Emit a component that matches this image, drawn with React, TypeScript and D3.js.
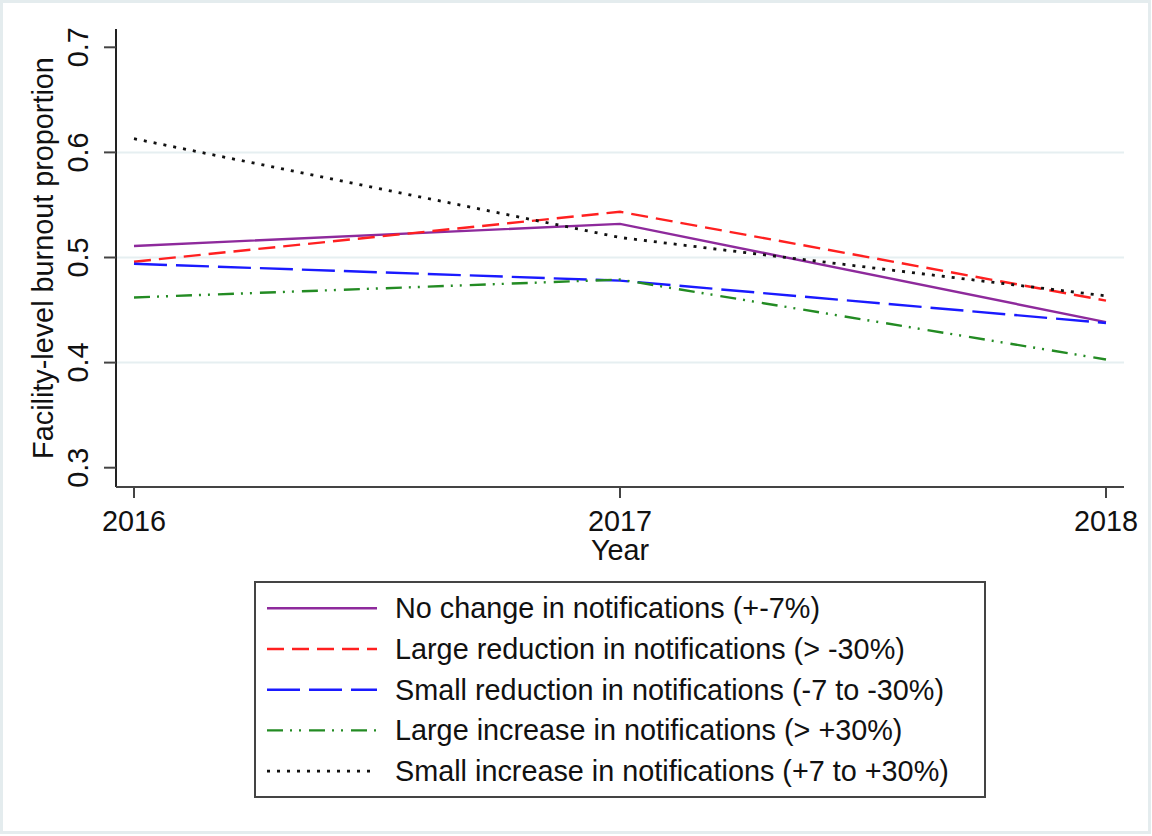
import React from "react";
import * as d3 from "d3";

// Survey years on the x axis
const years: number[] = [2016, 2017, 2018];

// Facility-level burnout proportion by notification-change group
const noChange: number[] = [0.511, 0.532, 0.4385];
const largeReduction: number[] = [0.496, 0.5435, 0.459];
const smallReduction: number[] = [0.494, 0.478, 0.4377];
const largeIncrease: number[] = [0.462, 0.479, 0.403];
const smallIncrease: number[] = [0.613, 0.519, 0.4635];

const seriesLabels: string[] = [
  "No change in notifications (+-7%)",
  "Large reduction in notifications (> -30%)",
  "Small reduction in notifications (-7 to -30%)",
  "Large increase in notifications (> +30%)",
  "Small increase in notifications (+7 to +30%)",
];

const yTicks: number[] = [0.3, 0.4, 0.5, 0.6, 0.7];
const yGridTicks: number[] = [0.4, 0.5, 0.6];

const W = 1152;
const H = 836;
const FONT = "'Liberation Sans', Arial, Helvetica, sans-serif";
const FS = 28.8;

type Style = { color: string; dash: string | null; width: number };

const styles: Style[] = [
  { color: "#8e2a9c", dash: null, width: 2.4 },
  { color: "#ff2020", dash: "17 8", width: 2.4 },
  { color: "#1a1aff", dash: "33 9", width: 2.4 },
  { color: "#238b23", dash: "16 7 2 7 2 8", width: 2.4 },
  { color: "#111111", dash: "3 7", width: 2.8 },
];

export default function App() {
  const values = [noChange, largeReduction, smallReduction, largeIncrease, smallIncrease];

  const x = d3.scaleLinear().domain([2016, 2018]).range([134, 1106]);
  const y = d3.scaleLinear().domain([0.3, 0.7]).range([467.7, 47.3]);

  const axisLeft = 116;
  const axisBottom = 487;
  const plotRight = 1124;
  const plotTop = 29;

  const line = d3
    .line<[number, number]>()
    .x((d) => x(d[0]))
    .y((d) => y(d[1]));

  const legendX = 255;
  const legendY = 582;
  const legendW = 730;
  const legendH = 215;
  const rowBase0 = 618.3;
  const rowStep = 40.7;

  return (
    <svg
      width={W}
      height={H}
      viewBox={`0 0 ${W} ${H}`}
      style={{ position: "absolute", left: 0, top: 0, background: "#ffffff" }}
      fontFamily={FONT}
    >
      <rect x={0} y={0} width={W} height={H} fill="#ffffff" />
      <rect x={1.5} y={1.5} width={1148} height={831} fill="none" stroke="#e4ecee" strokeWidth={3} />

      {/* horizontal gridlines */}
      {yGridTicks.map((t) => (
        <line
          key={`g${t}`}
          x1={axisLeft}
          x2={plotRight}
          y1={y(t)}
          y2={y(t)}
          stroke="#e6eff1"
          strokeWidth={2}
        />
      ))}

      {/* series */}
      {values.map((vals, i) => {
        const pts: [number, number][] = years.map((yr, j) => [yr, vals[j]]);
        const s = styles[i];
        return (
          <path
            key={`s${i}`}
            d={line(pts) || ""}
            fill="none"
            stroke={s.color}
            strokeWidth={s.width}
            strokeDasharray={s.dash || undefined}
            strokeLinejoin="miter"
          />
        );
      })}

      {/* y axis */}
      <line x1={axisLeft} x2={axisLeft} y1={plotTop} y2={axisBottom} stroke="#222" strokeWidth={2} />
      {yTicks.map((t) => (
        <g key={`yt${t}`}>
          <line x1={axisLeft - 12} x2={axisLeft} y1={y(t)} y2={y(t)} stroke="#444" strokeWidth={2} />
          <text
            transform={`translate(88,${y(t)}) rotate(-90)`}
            textAnchor="middle"
            fontSize={FS}
            fill="#111"
          >
            {t.toFixed(1)}
          </text>
        </g>
      ))}
      <text
        transform={`translate(53,258) rotate(-90)`}
        textAnchor="middle"
        fontSize={FS}
        fill="#111"
      >
        Facility-level burnout proportion
      </text>

      {/* x axis */}
      <line x1={axisLeft} x2={plotRight} y1={axisBottom} y2={axisBottom} stroke="#444" strokeWidth={2} />
      {years.map((yr) => (
        <g key={`xt${yr}`}>
          <line x1={x(yr)} x2={x(yr)} y1={axisBottom} y2={axisBottom + 11} stroke="#444" strokeWidth={2} />
          <text x={x(yr)} y={530.5} textAnchor="middle" fontSize={FS} fill="#111">
            {String(yr)}
          </text>
        </g>
      ))}
      <text x={(axisLeft + plotRight) / 2} y={559.5} textAnchor="middle" fontSize={FS} fill="#111">
        Year
      </text>

      {/* legend */}
      <rect
        x={legendX}
        y={legendY}
        width={legendW}
        height={legendH}
        fill="#ffffff"
        stroke="#444"
        strokeWidth={2}
      />
      {seriesLabels.map((lab, i) => {
        const base = rowBase0 + i * rowStep;
        const s = styles[i];
        return (
          <g key={`lg${i}`}>
            <line
              x1={267}
              x2={377}
              y1={base - 10}
              y2={base - 10}
              stroke={s.color}
              strokeWidth={s.width}
              strokeDasharray={s.dash || undefined}
            />
            <text x={395} y={base} fontSize={FS} fill="#111">
              {lab}
            </text>
          </g>
        );
      })}
    </svg>
  );
}
